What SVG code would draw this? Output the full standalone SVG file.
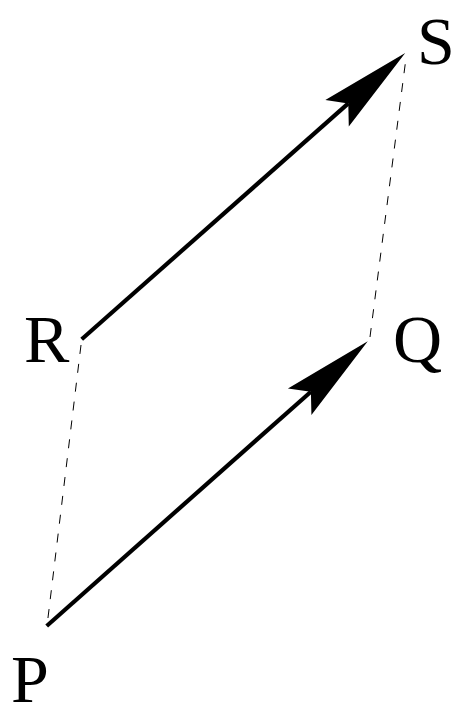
<svg xmlns="http://www.w3.org/2000/svg" width="456" height="709" viewBox="0 0 456 709">
<style>
text{font-family:"Liberation Serif","Times New Roman",serif;font-size:68px;fill:#000}
.vec{stroke:#000;stroke-width:4.2;fill:none;marker-end:url(#head)}
.dash{stroke:#000;stroke-width:1;fill:none;stroke-dasharray:9,10}
</style>
<defs>
<marker id="head" markerUnits="userSpaceOnUse" markerWidth="92" markerHeight="36" refX="15" refY="17.7" orient="auto" overflow="visible">
<path d="M0,0 L91,17.7 L0,35.4 L15,17.7 Z" fill="#000"/>
</marker>
</defs>
<rect width="456" height="709" fill="#fff"/>
<g id="connectors">
<line class="dash" x1="81" y1="345" x2="47" y2="626"/>
<line class="dash" x1="370" y1="337" x2="406" y2="58"/>
<line class="vec" x1="46.7" y1="626" x2="310.9" y2="391.7"/>
<line class="vec" x1="81.7" y1="339.3" x2="348.3" y2="103.4"/>
</g>
<g id="P"><text x="11" y="702">P</text></g>
<g id="Q"><text x="393" y="362">Q</text></g>
<g id="R"><text x="24" y="362">R</text></g>
<g id="S"><text x="417" y="64">S</text></g>
</svg>
